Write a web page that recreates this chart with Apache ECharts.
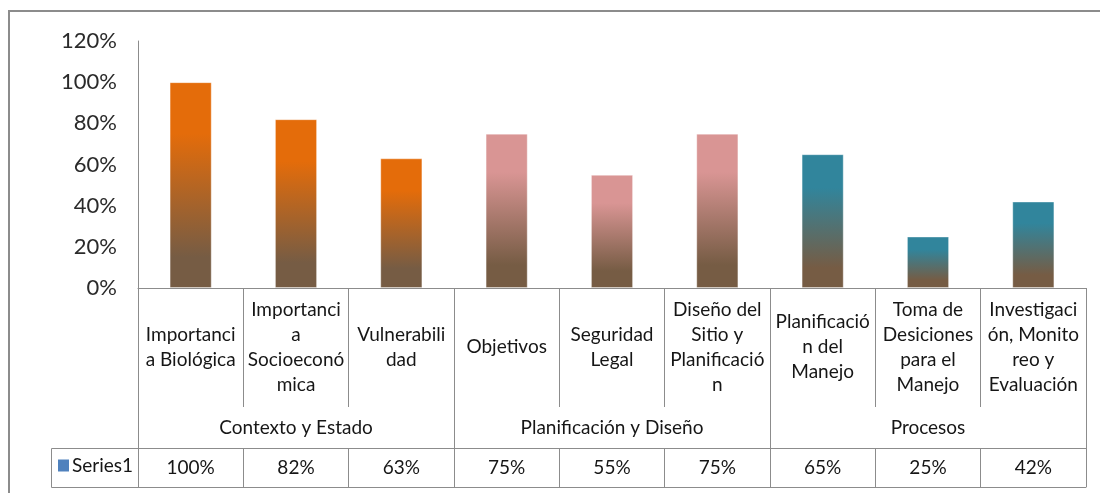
<!DOCTYPE html>
<html>
<head>
<meta charset="utf-8">
<script src="https://cdn.jsdelivr.net/npm/echarts@6/dist/echarts.min.js"></script>
<style>
  html, body { margin: 0; padding: 0; background: #fff; }
  #chart { width: 1100px; height: 493px; }
</style>
</head>
<body>
<div id="chart"></div>
<script>
// datos
const categories = [
  'Importanci\na Biológica',
  'Importanci\na\nSocioeconó\nmica',
  'Vulnerabili\ndad',
  'Objetivos',
  'Seguridad\nLegal',
  'Diseño del\nSitio y\nPlanificació\nn',
  'Planificació\nn del\nManejo',
  'Toma de\nDesiciones\npara el\nManejo',
  'Investigaci\nón, Monito\nreo y\nEvaluación',
]
const groups = ['Contexto y Estado', 'Planificación y Diseño', 'Procesos']
const groupSize = 3
const values = [100, 82, 63, 75, 55, 75, 65, 25, 42]
const yTicks = [0, 20, 40, 60, 80, 100, 120]
const seriesName = 'Series1'

// colores por grupo (arriba del degradado)
const groupColors = ['#E46C0A', '#D99594', '#31859C']
const bottomColor = '#765C44'
const lineColor = '#8c8c8c'
const textColor = '#161616'
const font = 'Lato, "Open Sans", sans-serif'

const chart = echarts.init(document.getElementById('chart'))

function barGradient(top) {
  return new echarts.graphic.LinearGradient(0, 0, 0, 1, [
    { offset: 0, color: top },
    { offset: 0.25, color: top },
    { offset: 0.85, color: bottomColor },
    { offset: 1, color: bottomColor },
  ])
}

const option = {
  animation: false,
  textStyle: { fontFamily: font },
  grid: { left: 138, right: 14, top: 41, bottom: 205 },
  legend: {
    data: [seriesName],
    left: 58,
    top: 456,
    padding: 0,
    itemWidth: 11,
    itemHeight: 12,
    itemGap: 0,
    icon: 'rect',
    textStyle: { fontSize: 19, color: textColor, fontFamily: font, padding: [0, 0, 0, -2] },
  },
  yAxis: {
    type: 'value',
    min: yTicks[0],
    max: yTicks[yTicks.length - 1],
    interval: 20,
    axisLine: { show: true, lineStyle: { color: lineColor } },
    axisTick: { show: false },
    splitLine: { show: false },
    axisLabel: {
      formatter: '{value}%',
      fontSize: 22,
      color: '#2a2a2a',
      margin: 21,
      fontFamily: font,
    },
  },
  xAxis: [
    {
      type: 'category',
      data: categories,
      position: 'bottom',
      axisLine: { lineStyle: { color: lineColor } },
      axisTick: { show: true, interval: 0, length: 119, lineStyle: { color: lineColor } },
      axisLabel: {
        interval: 0,
        fontSize: 19,
        lineHeight: 25,
        color: textColor,
        verticalAlign: 'middle',
        margin: 59,
        fontFamily: font,
      },
    },
    {
      type: 'category',
      data: groups,
      position: 'bottom',
      axisLine: { show: false },
      axisTick: { show: true, interval: 0, length: 160, lineStyle: { color: lineColor } },
      axisLabel: {
        interval: 0,
        fontSize: 19,
        color: textColor,
        verticalAlign: 'middle',
        margin: 140,
        fontFamily: font,
      },
    },
    {
      type: 'category',
      data: categories,
      position: 'bottom',
      offset: 160,
      axisLine: { show: true, lineStyle: { color: lineColor } },
      axisTick: { show: true, interval: 0, length: 39, lineStyle: { color: lineColor } },
      axisLabel: {
        interval: 0,
        fontSize: 19,
        color: textColor,
        verticalAlign: 'middle',
        margin: 20,
        fontFamily: font,
        formatter: (v, i) => values[i] + '%',
      },
    },
    {
      type: 'category',
      data: categories,
      position: 'bottom',
      offset: 199,
      axisLine: { show: true, lineStyle: { color: lineColor } },
      axisTick: { show: false },
      axisLabel: { show: false },
    },
  ],
  series: [
    {
      name: seriesName,
      type: 'bar',
      xAxisIndex: 0,
      barWidth: '40%',
      itemStyle: { color: '#4F81BD' },
      data: values.map((v, i) => ({
        value: v,
        itemStyle: {
          color: barGradient(groupColors[Math.floor(i / groupSize)]),
          borderColor: 'rgba(255,255,255,0.35)',
          borderWidth: 1,
        },
      })),
    },
  ],
  graphic: [
    // marco del gráfico
    {
      type: 'rect',
      shape: { x: 9, y: 11, width: 1200, height: 600 },
      style: { fill: 'none', stroke: lineColor, lineWidth: 2 },
      silent: true,
    },
    // celda de la leyenda en la tabla
    {
      type: 'rect',
      shape: { x: 51.5, y: 448.5, width: 87, height: 39 },
      style: { fill: 'none', stroke: lineColor, lineWidth: 1 },
      silent: true,
    },
  ],
}

chart.setOption(option)
</script>
</body>
</html>
